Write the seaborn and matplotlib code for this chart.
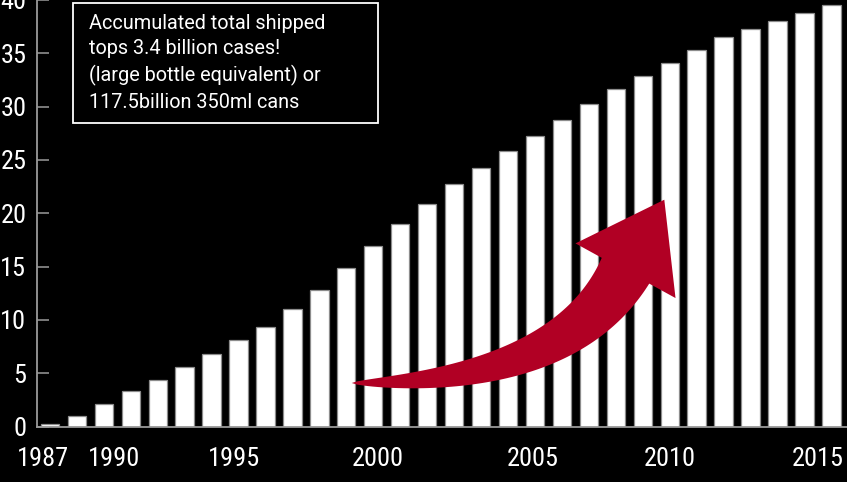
import matplotlib
matplotlib.use("Agg")
import matplotlib.pyplot as plt
import matplotlib.transforms as mtransforms
import numpy as np
import seaborn as sns
import pandas as pd


# --- data (accumulated shipments, 100 million cases) ---

years = list(range(1987, 2017))
shipped = [0.25, 0.97, 2.09, 3.31, 4.38, 5.57, 6.79, 8.13, 9.36, 11.02,
           12.83, 14.87, 16.96, 19.03, 20.87, 22.72, 24.26, 25.88, 27.29, 28.73,
           30.27, 31.61, 32.83, 34.05, 35.27, 36.50, 37.24, 38.03, 38.81, 39.56]

# year labels sit loosely under the bars in the original
xtick_pos = [1986.74, 1989.37, 1993.85, 1999.17, 2004.92, 2009.99, 2015.49]
xtick_labels = ["1987", "1990", "1995", "2000", "2005", "2010", "2015"]
ytick_pos = [0, 5, 10, 15, 20, 25, 30, 35, 40]

note = ("Accumulated total shipped\n"
        "tops 3.4 billion cases!\n"
        "(large bottle equivalent) or\n"
        "117.5billion 350ml cans")

# growth arrow: tail, bend, head base and tip in (year, value) units
arrow_tail = (1998.20, 4.08)
arrow_bend = (2006.10, 4.08)
arrow_base = (2008.36, 14.61)
arrow_tip = (2009.80, 21.27)

FONTS = ["Roboto Condensed", "Roboto", "DejaVu Sans"]
RED = "#b10024"


def draw_curved_arrow(ax, tail, bend, base, tip, shaft_px=54, head_px=114, color=RED):
    """
    Tapered curved arrow: a quadratic bezier shaft that widens from a point
    at the tail, topped with a triangular head. Built in display pixels.
    """
    tr = ax.transData
    p0, p1, p2, p3 = (tr.transform(p) for p in (tail, bend, base, tip))
    t = np.linspace(0, 1, 80)[:, None]
    curve = (1 - t) ** 2 * p0 + 2 * (1 - t) * t * p1 + t ** 2 * p2
    deriv = 2 * (1 - t) * (p1 - p0) + 2 * t * (p2 - p1)
    unit = deriv / np.linalg.norm(deriv, axis=1, keepdims=True)
    normal = np.column_stack([-unit[:, 1], unit[:, 0]])
    half = 0.5 * shaft_px * t ** 0.65
    left = curve + normal * half
    right = curve - normal * half

    axis = (p3 - p2) / np.linalg.norm(p3 - p2)
    n_head = np.array([-axis[1], axis[0]])
    barb_l = p2 + n_head * head_px / 2
    barb_r = p2 - n_head * head_px / 2

    outline = np.vstack([left, barb_l, p3, barb_r, right[::-1]])
    ax.add_patch(plt.Polygon(outline, closed=True, facecolor=color, edgecolor="none",
                             transform=mtransforms.IdentityTransform(), zorder=5))


df = pd.DataFrame({"year": years, "shipped": shipped})

sns.set_theme(style="ticks", rc={
    "figure.facecolor": "black",
    "axes.facecolor": "black",
    "axes.edgecolor": "#9a9a9a",
    "text.color": "white",
    "xtick.color": "white",
    "ytick.color": "#9a9a9a",
})
plt.rcParams["font.family"] = FONTS

fig = plt.figure(figsize=(8.47, 4.82), dpi=100)
ax = fig.add_axes([36.7 / 847, 55.5 / 482, 1 - 36.7 / 847, 426.5 / 482])

sns.barplot(data=df, x="year", y="shipped", native_scale=True, color="white",
            saturation=1, edgecolor="#8c8c8c", linewidth=0.9, width=0.68, ax=ax)

ax.set_xlim(years[0] - 0.49, years[-1] + 0.58)
ax.set_ylim(0, 40)

ax.set_xticks(xtick_pos)
ax.set_xticklabels(xtick_labels)
ax.set_yticks(ytick_pos)
ax.set_yticklabels([str(v) for v in ytick_pos])
ax.tick_params(axis="x", length=0, pad=15, labelsize=19, labelcolor="white")
ax.tick_params(axis="y", direction="in", length=8.8, width=1.1, pad=7.5,
               labelsize=19, labelcolor="white")
for lab in ax.get_yticklabels():
    lab.set_verticalalignment("center_baseline")

ax.set_xlabel("")
ax.set_ylabel("")
sns.despine(ax=ax)
ax.spines["left"].set_linewidth(1.3)
ax.spines["bottom"].set_linewidth(1.3)

# annotation box in the upper left corner
fig.text(89.3 / 847, 1 - 14.0 / 482, note, ha="left", va="top", fontsize=14.3,
         linespacing=1.42, color="white", family=["Roboto", "DejaVu Sans"])
fig.patches.append(plt.Rectangle((73.3 / 847, 1 - 122.7 / 482), 305 / 847, 120 / 482,
                                 transform=fig.transFigure, fill=False,
                                 edgecolor="white", linewidth=1.3))

draw_curved_arrow(ax, arrow_tail, arrow_bend, arrow_base, arrow_tip)

fig.savefig("out.png", dpi=100, facecolor="black")
